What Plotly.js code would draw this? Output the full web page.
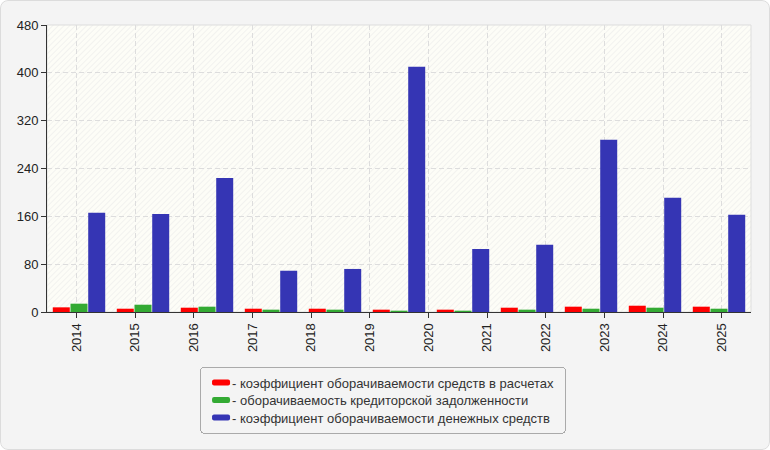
<!DOCTYPE html>
<html>
<head>
<meta charset="utf-8">
<script src="https://cdn.plot.ly/plotly-3.0.1.min.js"></script>
<style>
  html, body { margin: 0; padding: 0; background: #fff; }
  #wrap { position: relative; width: 770px; height: 450px; border-radius: 8px; overflow: hidden; }
  #frame { position: absolute; left: 0; top: 0; width: 768px; height: 448px; border: 1px solid #dcdcdc; border-radius: 8px; pointer-events: none; }
</style>
</head>
<body>
<div id="wrap"><div id="chart" style="width:770px;height:450px;"></div><div id="frame"></div></div>
<script>
// tick labels under the axis (12 of them)
var years = ['2014', '2015', '2016', '2017', '2018', '2019', '2020', '2021', '2022', '2023', '2024', '2025'];
var yearSlots = [0, 1, 2, 3, 4, 5, 6, 7, 8, 9, 10, 11];

// the bars themselves come in 11 groups
var barPeriods = [1, 2, 3, 4, 5, 6, 7, 8, 9, 10, 11];
var settlements = [7.8, 5.5, 7.2, 5.5, 5.5, 3.9, 3.9, 7.2, 8.9, 10.5, 8.9];
var payables = [13.9, 12.2, 8.9, 3.9, 3.9, 2.2, 2.2, 3.9, 5.5, 7.2, 5.5];
var cash = [166, 164, 224, 69, 72, 410, 105.5, 112.5, 288, 191, 162.5];

var seriesNames = [
  '- коэффициент оборачиваемости средств в расчетах',
  '- оборачиваемость кредиторской задолженности',
  '- коэффициент оборачиваемости денежных средств'
];

var font = 'Arial, "Liberation Sans", sans-serif';

var hatch = "<svg xmlns='http://www.w3.org/2000/svg' width='704' height='287'>" +
  "<defs><pattern id='p' width='4' height='4' patternUnits='userSpaceOnUse' patternTransform='rotate(45)'>" +
  "<rect width='4' height='4' fill='#fdfdf7'/><line x1='0' y1='0' x2='0' y2='4' stroke='#ececea' stroke-width='1.2'/>" +
  "</pattern></defs><rect width='100%' height='100%' fill='url(#p)'/></svg>";

var data = [
  {type: 'bar', x: barPeriods, y: settlements, name: seriesNames[0], marker: {color: '#ff0000'}},
  {type: 'bar', x: barPeriods, y: payables, name: seriesNames[1], marker: {color: '#33aa33'}},
  {type: 'bar', x: barPeriods, y: cash, name: seriesNames[2], marker: {color: '#3535b4'}},
  {type: 'scatter', x: [], y: [], xaxis: 'x2', showlegend: false, hoverinfo: 'skip'}
];

var layout = {
  width: 770,
  height: 450,
  margin: {l: 47, r: 19, t: 25, b: 138},
  paper_bgcolor: '#f4f4f4',
  plot_bgcolor: '#fdfdf7',
  font: {family: font, size: 13, color: '#333'},
  barmode: 'group',
  bargap: 0.17,
  bargroupgap: 0.04,
  showlegend: true,
  legend: {
    x: 0.2174, xanchor: 'left', y: -0.19, yanchor: 'top',
    bgcolor: '#f4f4f4', bordercolor: '#aaaaaa', borderwidth: 1,
    font: {family: font, size: 13, color: '#333'},
    tracegroupgap: 0
  },
  xaxis: {
    type: 'linear', range: [0.5, 11.5], automargin: false,
    showticklabels: false, showgrid: false, zeroline: false, showline: false, ticks: ''
  },
  xaxis2: {
    overlaying: 'x', anchor: 'y', side: 'bottom', automargin: false,
    type: 'linear', range: [-0.5, 11.5],
    tickmode: 'array', tickvals: yearSlots, ticktext: years,
    tickangle: -90, ticks: 'outside', ticklen: 5, tickcolor: '#333',
    showline: true, linecolor: '#333', linewidth: 1,
    showgrid: true, gridcolor: '#dddddd', griddash: '5px,3px',
    zeroline: false, tickfont: {size: 13, color: '#222'}
  },
  yaxis: {
    range: [0, 480], tick0: 0, dtick: 80, automargin: false,
    ticks: 'outside', ticklen: 5, tickcolor: '#333',
    showline: true, linecolor: '#333', linewidth: 1,
    showgrid: true, gridcolor: '#dddddd', griddash: '5px,3px',
    zeroline: false, tickfont: {size: 13, color: '#222'}
  },
  images: [{
    source: 'data:image/svg+xml;charset=utf-8,' + encodeURIComponent(hatch),
    xref: 'paper', yref: 'paper', x: 0, y: 1, sizex: 1, sizey: 1,
    sizing: 'stretch', xanchor: 'left', yanchor: 'top', layer: 'below'
  }],
  shapes: [{
    type: 'rect', xref: 'paper', yref: 'paper', x0: 0, x1: 1, y0: 0, y1: 1,
    line: {color: '#dddddd', width: 1}, layer: 'below'
  }]
};

Plotly.newPlot('chart', data, layout, {staticPlot: true}).then(function (gd) {
  // legend swatches as small rounded bars sitting close to their text,
  // rows a little tighter than plotly's default
  var pull = 9, rowGap = 17.5;
  gd.querySelectorAll('.legend .legendpoints path').forEach(function (p) {
    p.setAttribute('d', 'M-7,-3H7Q9,-3 9,-1V1Q9,3 7,3H-7Q-9,3 -9,1V-1Q-9,-3 -7,-3Z');
  });
  gd.querySelectorAll('.legend .legendtext').forEach(function (t) {
    t.setAttribute('x', parseFloat(t.getAttribute('x')) - pull);
  });
  var rows = gd.querySelectorAll('.legend .traces');
  var ys = [], x0 = 0;
  rows.forEach(function (r) {
    var m = /translate\(\s*([-\d.]+)[ ,]+([-\d.]+)/.exec(r.getAttribute('transform') || '');
    if (m) { x0 = parseFloat(m[1]); ys.push(parseFloat(m[2])); }
  });
  var shrink = 0;
  if (ys.length === rows.length && ys.length > 1) {
    shrink = (ys[ys.length - 1] - ys[0]) - rowGap * (ys.length - 1);
    rows.forEach(function (r, i) {
      r.setAttribute('transform', 'translate(' + x0 + ',' + (ys[0] + i * rowGap) + ')');
    });
  }
  var bg = gd.querySelector('.legend rect.bg');
  if (bg) {
    bg.setAttribute('width', parseFloat(bg.getAttribute('width')) - pull + 6);
    bg.setAttribute('height', parseFloat(bg.getAttribute('height')) - shrink);
    bg.setAttribute('rx', 4);
    bg.setAttribute('ry', 4);
  }
});
</script>
</body>
</html>
